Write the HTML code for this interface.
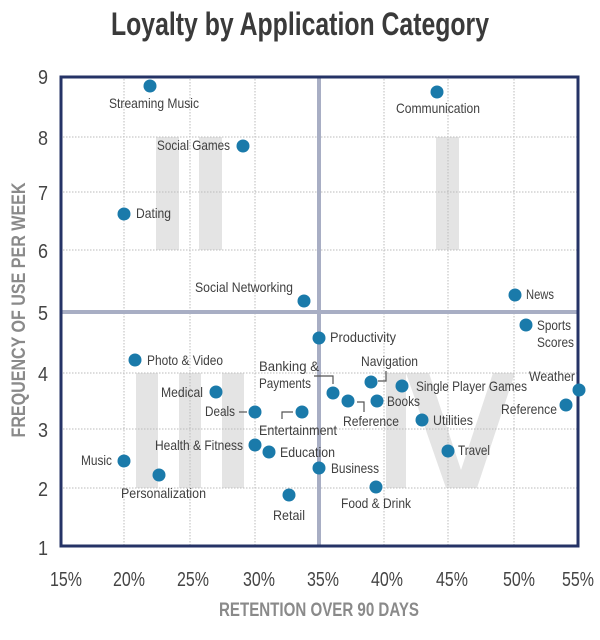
<!DOCTYPE html>
<html><head><meta charset="utf-8"><style>
html,body{margin:0;padding:0;background:#fff;}
svg{display:block;}
text{font-family:"Liberation Sans Narrow","Liberation Sans",sans-serif;}
.l{font-size:14px;fill:#404040;}
.t{font-size:20px;fill:#444;}
</style></head><body>
<svg width="600" height="640" viewBox="0 0 600 640" xmlns="http://www.w3.org/2000/svg">
<text x="300" y="35" text-anchor="middle" font-size="32" font-weight="bold" fill="#3a3a3a" textLength="378" lengthAdjust="spacingAndGlyphs">Loyalty by Application Category</text>
<g fill="#e4e4e4">
<rect x="156" y="137" width="23" height="113"/><rect x="199" y="137" width="23" height="113"/>
<rect x="436" y="137" width="23" height="113"/>
<rect x="136" y="373" width="22" height="115"/><rect x="179" y="373" width="22" height="115"/><rect x="222" y="373" width="22" height="115"/>
<rect x="386" y="373" width="20" height="115"/>
<polygon points="406,373 429,373 461,470 493,373 515,373 477,488 446,488"/>
</g>
<g stroke="#bbb" stroke-width="1" stroke-dasharray="1.5,1.5">
<line x1="60" y1="137" x2="578" y2="137"/><line x1="60" y1="192" x2="578" y2="192"/><line x1="60" y1="250" x2="578" y2="250"/>
<line x1="60" y1="373" x2="578" y2="373"/><line x1="60" y1="429" x2="578" y2="429"/><line x1="60" y1="488" x2="578" y2="488"/>
<line x1="124" y1="76" x2="124" y2="547"/><line x1="190" y1="76" x2="190" y2="547"/><line x1="255" y1="76" x2="255" y2="547"/>
<line x1="384" y1="76" x2="384" y2="547"/><line x1="448" y1="76" x2="448" y2="547"/><line x1="514" y1="76" x2="514" y2="547"/>
</g>
<line x1="60" y1="312" x2="578" y2="312" stroke="#a8aec4" stroke-width="4"/>
<line x1="319" y1="76" x2="319" y2="547" stroke="#a8aec4" stroke-width="4"/>
<rect x="61" y="77" width="517" height="469" fill="none" stroke="#253366" stroke-width="3"/>
<g class="t" text-anchor="middle">
<text x="43" y="84" textLength="10" lengthAdjust="spacingAndGlyphs">9</text><text x="43" y="145" textLength="10" lengthAdjust="spacingAndGlyphs">8</text><text x="43" y="200" textLength="10" lengthAdjust="spacingAndGlyphs">7</text><text x="43" y="258" textLength="10" lengthAdjust="spacingAndGlyphs">6</text><text x="43" y="320" textLength="10" lengthAdjust="spacingAndGlyphs">5</text><text x="43" y="381" textLength="10" lengthAdjust="spacingAndGlyphs">4</text><text x="43" y="437" textLength="10" lengthAdjust="spacingAndGlyphs">3</text><text x="43" y="496" textLength="10" lengthAdjust="spacingAndGlyphs">2</text><text x="43" y="555" textLength="10" lengthAdjust="spacingAndGlyphs">1</text>
<text x="66" y="586" textLength="32" lengthAdjust="spacingAndGlyphs">15%</text><text x="129" y="586" textLength="32" lengthAdjust="spacingAndGlyphs">20%</text><text x="193" y="586" textLength="32" lengthAdjust="spacingAndGlyphs">25%</text><text x="259" y="586" textLength="32" lengthAdjust="spacingAndGlyphs">30%</text><text x="323" y="586" textLength="32" lengthAdjust="spacingAndGlyphs">35%</text><text x="387" y="586" textLength="32" lengthAdjust="spacingAndGlyphs">40%</text><text x="452" y="586" textLength="32" lengthAdjust="spacingAndGlyphs">45%</text><text x="519" y="586" textLength="32" lengthAdjust="spacingAndGlyphs">50%</text><text x="578" y="586" textLength="32" lengthAdjust="spacingAndGlyphs">55%</text>
</g>
<text x="319" y="616" text-anchor="middle" font-size="19" font-weight="bold" fill="#8a8a8a" textLength="200" lengthAdjust="spacingAndGlyphs">RETENTION OVER 90 DAYS</text>
<text transform="translate(25,310) rotate(-90)" text-anchor="middle" font-size="19" font-weight="bold" fill="#8a8a8a" textLength="255" lengthAdjust="spacingAndGlyphs">FREQUENCY OF USE PER WEEK</text>
<g stroke="#555" stroke-width="1.2" fill="none">
<line x1="239" y1="412" x2="247" y2="412"/>
<polyline points="282,419 282,412 293,412"/>
<polyline points="314,376 333,376 333,384"/>
<polyline points="386,371 386,381 378,381"/>
<polyline points="357,402 364,402 364,412"/>
</g>
<g fill="#1a7aaa">
<circle cx="150" cy="86" r="6.5"/><circle cx="437" cy="92" r="6.5"/><circle cx="243" cy="146" r="6.5"/><circle cx="124" cy="214" r="6.5"/>
<circle cx="304" cy="301" r="6.5"/><circle cx="515" cy="295" r="6.5"/><circle cx="526" cy="325" r="6.5"/><circle cx="319" cy="338" r="6.5"/>
<circle cx="135" cy="360" r="6.5"/><circle cx="216" cy="392" r="6.5"/><circle cx="333" cy="393" r="6.5"/><circle cx="371" cy="382" r="6.5"/>
<circle cx="402" cy="386" r="6.5"/><circle cx="579" cy="390" r="6.5"/><circle cx="255" cy="412" r="6.5"/><circle cx="302" cy="412" r="6.5"/>
<circle cx="348" cy="401" r="6.5"/><circle cx="377" cy="401" r="6.5"/><circle cx="566" cy="405" r="6.5"/><circle cx="422" cy="420" r="6.5"/>
<circle cx="255" cy="445" r="6.5"/><circle cx="269" cy="452" r="6.5"/><circle cx="124" cy="461" r="6.5"/><circle cx="448" cy="451" r="6.5"/>
<circle cx="159" cy="475" r="6.5"/><circle cx="319" cy="468" r="6.5"/><circle cx="376" cy="487" r="6.5"/><circle cx="289" cy="495" r="6.5"/>
</g>
<g class="l">
<text x="109" y="108" textLength="90" lengthAdjust="spacingAndGlyphs">Streaming Music</text>
<text x="396" y="113" textLength="84" lengthAdjust="spacingAndGlyphs">Communication</text>
<text x="157" y="150" textLength="73" lengthAdjust="spacingAndGlyphs">Social Games</text>
<text x="136" y="218" textLength="35" lengthAdjust="spacingAndGlyphs">Dating</text>
<text x="195" y="292" textLength="98" lengthAdjust="spacingAndGlyphs">Social Networking</text>
<text x="526" y="299" textLength="28" lengthAdjust="spacingAndGlyphs">News</text>
<text x="537" y="330" textLength="34" lengthAdjust="spacingAndGlyphs">Sports</text>
<text x="537" y="347" textLength="37" lengthAdjust="spacingAndGlyphs">Scores</text>
<text x="330" y="342" textLength="66" lengthAdjust="spacingAndGlyphs">Productivity</text>
<text x="147" y="365" textLength="76" lengthAdjust="spacingAndGlyphs">Photo &amp; Video</text>
<text x="161" y="397" textLength="42" lengthAdjust="spacingAndGlyphs">Medical</text>
<text x="259" y="371" textLength="60" lengthAdjust="spacingAndGlyphs">Banking &amp;</text>
<text x="259" y="388" textLength="52" lengthAdjust="spacingAndGlyphs">Payments</text>
<text x="361" y="366" textLength="57" lengthAdjust="spacingAndGlyphs">Navigation</text>
<text x="416" y="391" textLength="111" lengthAdjust="spacingAndGlyphs">Single Player Games</text>
<text x="529" y="381" textLength="46" lengthAdjust="spacingAndGlyphs">Weather</text>
<text x="205" y="416" textLength="30" lengthAdjust="spacingAndGlyphs">Deals</text>
<text x="259" y="435" textLength="78" lengthAdjust="spacingAndGlyphs">Entertainment</text>
<text x="343" y="426" textLength="56" lengthAdjust="spacingAndGlyphs">Reference</text>
<text x="387" y="406" textLength="33" lengthAdjust="spacingAndGlyphs">Books</text>
<text x="501" y="414" textLength="56" lengthAdjust="spacingAndGlyphs">Reference</text>
<text x="433" y="425" textLength="40" lengthAdjust="spacingAndGlyphs">Utilities</text>
<text x="155" y="450" textLength="88" lengthAdjust="spacingAndGlyphs">Health &amp; Fitness</text>
<text x="280" y="457" textLength="55" lengthAdjust="spacingAndGlyphs">Education</text>
<text x="81" y="465" textLength="31" lengthAdjust="spacingAndGlyphs">Music</text>
<text x="458" y="455" textLength="32" lengthAdjust="spacingAndGlyphs">Travel</text>
<text x="121" y="498" textLength="85" lengthAdjust="spacingAndGlyphs">Personalization</text>
<text x="331" y="473" textLength="48" lengthAdjust="spacingAndGlyphs">Business</text>
<text x="341" y="508" textLength="70" lengthAdjust="spacingAndGlyphs">Food &amp; Drink</text>
<text x="273" y="520" textLength="32" lengthAdjust="spacingAndGlyphs">Retail</text>
</g>
</svg>
</body></html>
